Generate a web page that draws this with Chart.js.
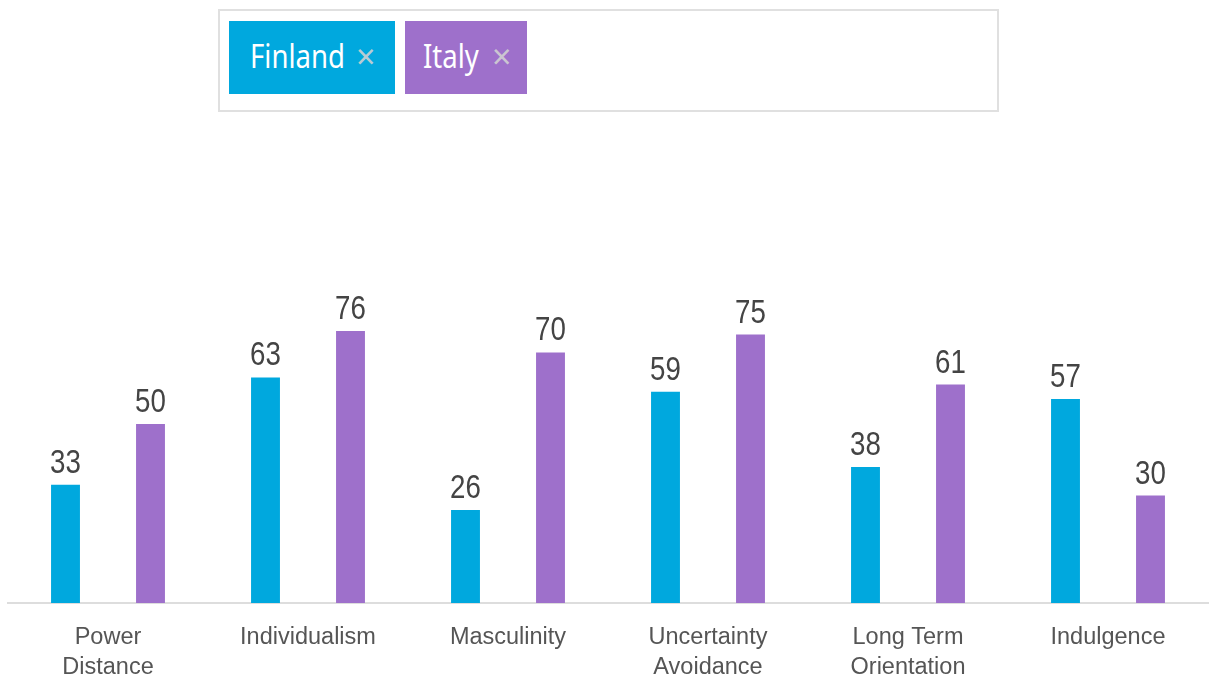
<!DOCTYPE html>
<html>
<head>
<meta charset="utf-8">
<script src="https://cdn.jsdelivr.net/npm/chart.js@4.4.0/dist/chart.umd.min.js"></script>
<style>
  html, body { margin: 0; padding: 0; background: #fff; }
  body { width: 1216px; height: 677px; position: relative; overflow: hidden; }
  .tag-box {
    position: absolute; left: 218px; top: 9px; width: 781px; height: 103px;
    border: 2px solid #e0e0e0; box-sizing: border-box;
  }
  .tag {
    position: absolute; top: 10px; height: 73px; color: #fff;
    font-family: 'Noto Sans', sans-serif; font-size: 32px; line-height: 69px;
  }
  .tag .lbl { position: absolute; top: 0; white-space: nowrap; transform: scaleX(0.86); transform-origin: left center; }
  .tag .x { position: absolute; top: 1px; color: rgba(210,210,210,0.9); font-size: 34px; }
  .chart-wrap { position: absolute; left: 0; top: 0; width: 1216px; height: 677px; }
</style>
</head>
<body>
<div class="tag-box">
  <div class="tag" style="left:9px; width:166px; background:#00a8de;"><span class="lbl" style="left:21px">Finland</span><span class="x" style="left:127px">×</span></div>
  <div class="tag" style="left:185px; width:122px; background:#9e70cb;"><span class="lbl" style="left:18px">Italy</span><span class="x" style="left:87px">×</span></div>
</div>
<div class="chart-wrap"><canvas id="chart"></canvas></div>
<script>
const categories = [['Power', 'Distance'], 'Individualism', 'Masculinity', ['Uncertainty', 'Avoidance'], ['Long Term', 'Orientation'], 'Indulgence']
const finland = [33, 63, 26, 59, 38, 57]
const italy = [50, 76, 70, 75, 61, 30]

const valueLabels = {
  id: 'valueLabels',
  afterDatasetsDraw(chart) {
    const ctx = chart.ctx
    ctx.save()
    ctx.fillStyle = '#444'
    ctx.font = '33px "Liberation Sans", Arial, sans-serif'
    ctx.textAlign = 'center'
    ctx.textBaseline = 'alphabetic'
    chart.data.datasets.forEach((ds, i) => {
      chart.getDatasetMeta(i).data.forEach((bar, j) => {
        ctx.save()
        ctx.translate(bar.x, bar.y - 12)
        ctx.scale(0.84, 1)
        ctx.fillText(String(ds.data[j]), 0, 0)
        ctx.restore()
      })
    })
    ctx.restore()
  }
}

new Chart(document.getElementById('chart'), {
  type: 'bar',
  data: {
    labels: categories,
    datasets: [
      { label: 'Finland', data: finland, backgroundColor: '#00a8de' },
      { label: 'Italy', data: italy, backgroundColor: '#9e70cb' },
    ],
  },
  options: {
    responsive: true,
    maintainAspectRatio: false,
    animation: false,
    categoryPercentage: 0.85,
    barPercentage: 0.34,
    layout: { padding: { left: 8, right: 8, top: 245, bottom: 0 } },
    plugins: {
      legend: { display: false },
      tooltip: { enabled: false },
    },
    scales: {
      y: { display: false, min: 0, max: 100 },
      x: {
        grid: { display: false },
        border: { display: true, color: '#dddddd', width: 2 },
        ticks: {
          color: '#555',
          padding: 12,
          font: { family: '"Liberation Sans", Arial, sans-serif', size: 23.5, lineHeight: 1.25 },
        },
        afterFit(scale) { scale.height = 74 },
      },
    },
  },
  plugins: [valueLabels],
})
</script>
</body>
</html>
